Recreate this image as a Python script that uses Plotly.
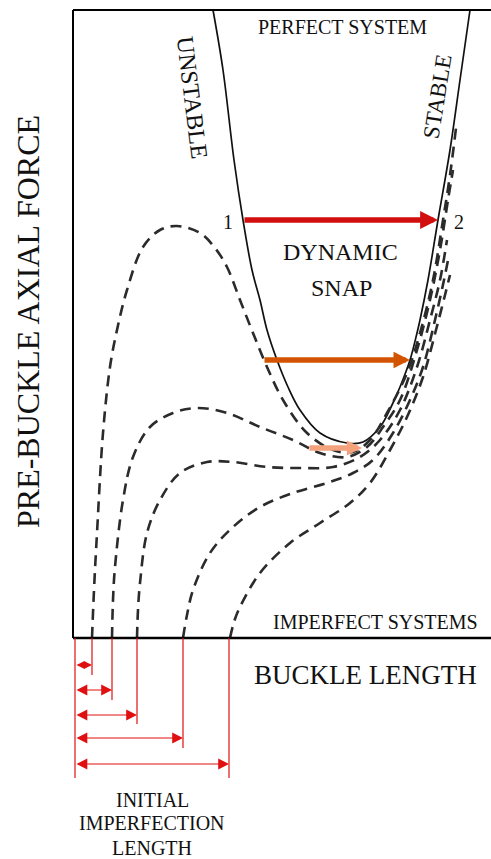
import plotly.graph_objects as go

# perfect system (solid) - buckle length vs pre-buckle axial force, arbitrary units
perfect_len = [140, 150, 161, 170, 179, 187, 194, 204, 215, 227, 247, 274, 290, 307,
               319, 327, 337, 344, 347, 355, 365, 377, 387, 397]
perfect_force = [628, 568, 478, 418, 368, 338, 308, 278, 251, 228, 205, 195, 196, 211,
                 233, 251, 278, 305, 318, 358, 418, 488, 558, 628]

# imperfect systems (dashed)
imp1_len = [19, 21, 24, 30, 37, 44, 54, 70, 87, 104, 127, 142, 154, 167, 180, 194,
            210, 234, 260, 280, 297, 314, 334, 347, 360, 370, 377, 383]
imp1_force = [0, 48, 105, 205, 271, 308, 348, 391, 408, 412, 405, 390, 371, 338, 305,
              271, 238, 205, 188, 186, 198, 225, 265, 305, 358, 418, 463, 510]
imp2_len = [39, 40, 42, 50, 60, 77, 100, 124, 154, 187, 220, 247, 274, 294, 310, 327,
            344, 357, 367, 375, 380]
imp2_force = [0, 38, 71, 138, 181, 211, 225, 230, 225, 211, 198, 185, 181, 191, 211,
              238, 288, 338, 388, 438, 468]
imp3_len = [64, 65, 67, 74, 87, 107, 134, 160, 194, 227, 260, 287, 307, 327, 344,
            357, 367, 374]
imp3_force = [0, 28, 55, 105, 138, 165, 176, 176, 171, 170, 171, 181, 198, 228, 271,
              318, 358, 398]
imp4_len = [110, 114, 120, 137, 160, 187, 220, 254, 280, 300, 320, 337, 350, 362,
            371, 376]
imp4_force = [0, 23, 48, 85, 111, 131, 145, 155, 165, 178, 205, 238, 271, 318, 358, 383]
imp5_len = [157, 161, 167, 187, 217, 247, 277, 297, 317, 334, 350, 363, 372, 377]
imp5_force = [0, 16, 31, 65, 95, 115, 135, 155, 188, 221, 261, 308, 343, 363]

# dynamic snap arrows: force level, start length, end length
snap_force = [418, 278, 190]
snap_start = [170, 190, 235]
snap_end = [365, 337, 289]
snap_colors = ["#d10f0f", "#d35400", "#f4a27e"]

# initial imperfection lengths and their dimension lines
imperf_len = [19, 39, 64, 110, 156]
dim_level = [-27, -52, -77, -100, -126]
dim_bottom = [-37, -62, -86, -110, -140]

FONT = "Liberation Serif, Times New Roman, serif"
INK = "#111111"
RED = "#e01010"

fig = go.Figure()

fig.add_trace(go.Scatter(x=perfect_len, y=perfect_force, mode="lines",
                         line=dict(color="#111111", width=1.7, shape="spline"),
                         hoverinfo="skip"))

for xs, ys in [(imp1_len, imp1_force), (imp2_len, imp2_force), (imp3_len, imp3_force),
               (imp4_len, imp4_force), (imp5_len, imp5_force)]:
    fig.add_trace(go.Scatter(x=xs, y=ys, mode="lines",
                             line=dict(color="#2b2b2b", width=2.6, dash="11px,7px",
                                       shape="spline"),
                             hoverinfo="skip"))

# frame: left axis, top line, bottom axis
x_max = 418
y_max = 628
fig.add_shape(type="line", x0=0, y0=0, x1=0, y1=y_max, line=dict(color="black", width=2))
fig.add_shape(type="line", x0=0, y0=y_max, x1=x_max, y1=y_max, line=dict(color="black", width=2))
fig.add_shape(type="line", x0=0, y0=0, x1=x_max, y1=0, line=dict(color="black", width=2.5))

# snap arrows
sizes = [0.65, 0.6, 0.55]
for f, s, e, c, sz in zip(snap_force, snap_start, snap_end, snap_colors, sizes):
    fig.add_annotation(x=e, y=f, ax=s, ay=f, xref="x", yref="y", axref="x", ayref="y",
                       text="", showarrow=True, arrowhead=2, arrowsize=sz,
                       arrowwidth=5.5, arrowcolor=c, standoff=0, startstandoff=0)

# dimension lines for the initial imperfection length
fig.add_shape(type="line", x0=2, y0=0, x1=2, y1=min(dim_bottom),
              line=dict(color=RED, width=1.2))
for i, (L, lev, bot) in enumerate(zip(imperf_len, dim_level, dim_bottom)):
    head = 1.35 if i == 0 else 1.8  # shortest one: the two heads nearly meet
    fig.add_shape(type="line", x0=L, y0=0, x1=L, y1=bot, line=dict(color=RED, width=1.2))
    fig.add_annotation(x=L, y=lev, ax=2, ay=lev, xref="x", yref="y", axref="x", ayref="y",
                       text="", showarrow=True, arrowhead=2, arrowsize=head, arrowwidth=1.2,
                       arrowside="end+start", startarrowhead=2, startarrowsize=head,
                       arrowcolor=RED, standoff=0, startstandoff=0)

labels = [
    ("PERFECT SYSTEM", 269, 611, 20, 0),
    ("UNSTABLE", 119, 541, 24, 83),
    ("STABLE", 364, 541, 23, -81),
    ("1", 155, 416, 20, 0),
    ("2", 386, 416, 20, 0),
    ("DYNAMIC", 267, 386, 24, 0),
    ("SNAP", 268, 350, 24, 0),
    ("IMPERFECT SYSTEMS", 302, 16, 20, 0),
    ("BUCKLE LENGTH", 292, -37, 27, 0),
    ("INITIAL", 79, -162, 20, 0),
    ("IMPERFECTION", 79, -185, 20, 0),
    ("LENGTH", 79, -210, 20, 0),
    ("PRE-BUCKLE AXIAL FORCE", -45, 316, 32, -90),
]
for txt, x, y, size, ang in labels:
    fig.add_annotation(x=x, y=y, xref="x", yref="y", text=txt, showarrow=False,
                       textangle=ang, font=dict(family=FONT, size=size, color=INK))

fig.update_layout(
    width=491, height=859,
    margin=dict(l=0, r=0, t=0, b=0),
    paper_bgcolor="white", plot_bgcolor="white",
    showlegend=False,
    xaxis=dict(range=[-73, 418], visible=False, fixedrange=True),
    yaxis=dict(range=[-221, 638], visible=False, fixedrange=True),
)

fig.write_html("out.html", config={"displayModeBar": False},
               post_script="document.body.style.margin='0';")
